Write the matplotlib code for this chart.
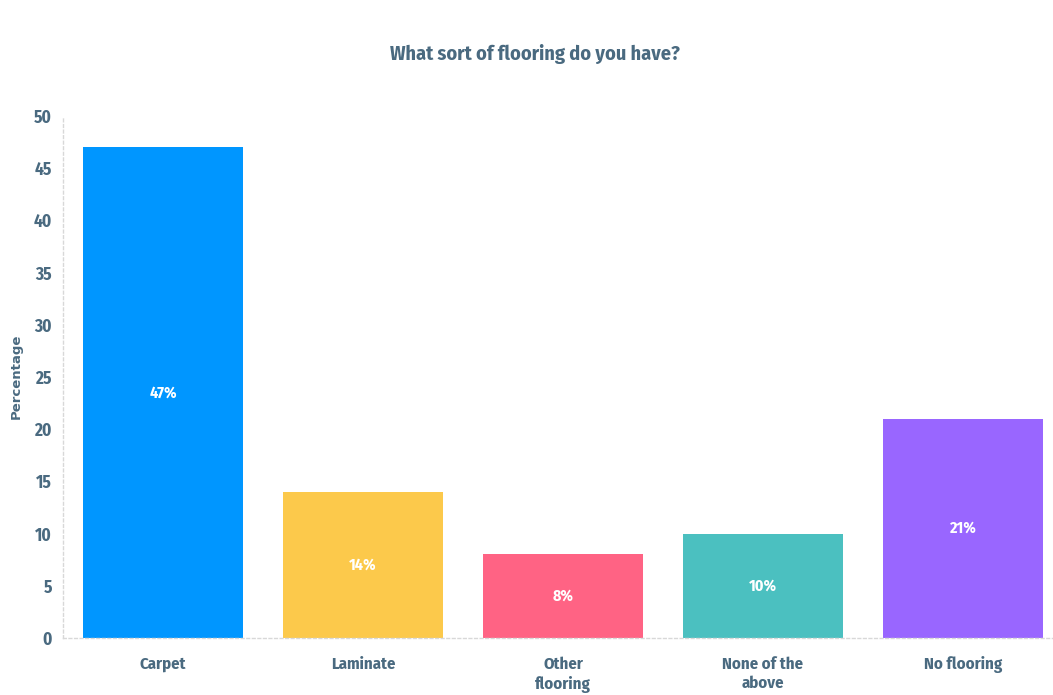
import matplotlib
matplotlib.use("Agg")
import matplotlib.pyplot as plt
from matplotlib import font_manager

categories = ["Carpet", "Laminate", "Other\nflooring", "None of the\nabove", "No flooring"]
values = [47, 14, 8, 10, 21]
value_labels = ["47%", "14%", "8%", "10%", "21%"]
bar_colors = ["#0096FF", "#FCC94B", "#FF6384", "#4BC0C0", "#9966FF"]
y_ticks = [0, 5, 10, 15, 20, 25, 30, 35, 40, 45, 50]

text_color = "#4A6A80"

# pick a condensed sans family from what is installed
installed = {f.name for f in font_manager.fontManager.ttflist}
preferred = ["Fira Sans Condensed", "Ubuntu Condensed", "Archivo Narrow",
             "Saira SemiCondensed", "Roboto Condensed", "Liberation Sans Narrow"]
main_family = next((f for f in preferred if f in installed), "DejaVu Sans")
plt.rcParams["font.family"] = [main_family, "DejaVu Sans"]

W, H = 1053, 695
fig = plt.figure(figsize=(W / 100, H / 100), dpi=100)
left, right, top, bottom = 63, 1063, 116, 638
ax = fig.add_axes([left / W, (H - bottom) / H, (right - left) / W, (bottom - top) / H])

x = range(len(categories))
bars = ax.bar(x, values, width=0.8, color=bar_colors, zorder=2)
for b, lab, v in zip(bars, value_labels, values):
    ax.text(b.get_x() + b.get_width() / 2, v / 2, lab, ha="center", va="center",
            color="white", fontsize=11.5, fontweight="bold", zorder=3)

ax.set_xlim(-0.5, len(categories) - 0.5)
ax.set_ylim(0, 50)
ax.set_yticks(y_ticks)
ax.set_xticks(list(x))
ax.set_xticklabels(categories, linespacing=1.3)
ax.tick_params(axis="y", length=0, colors=text_color, labelsize=12.5, pad=8)
ax.tick_params(axis="x", length=0, colors=text_color, labelsize=12, pad=13)
for lbl in ax.get_xticklabels() + ax.get_yticklabels():
    lbl.set_fontweight("bold")
    lbl.set_color(text_color)

for side in ["top", "right"]:
    ax.spines[side].set_visible(False)
for side in ["left", "bottom"]:
    ax.spines[side].set_color("#D8D8D8")
    ax.spines[side].set_linestyle((0, (2, 2)))
    ax.spines[side].set_linewidth(1)

fig.text(16 / W, 1 - 376 / H, "Percentage", rotation=90, ha="center", va="center",
         color=text_color, fontsize=9.5, fontweight="bold", family=["DejaVu Sans"])
fig.text(535 / W, 1 - 54 / H, "What sort of flooring do you have?", ha="center", va="center",
         color=text_color, fontsize=14.5, fontweight="bold")

fig.savefig("out.png", dpi=100, facecolor="white")
